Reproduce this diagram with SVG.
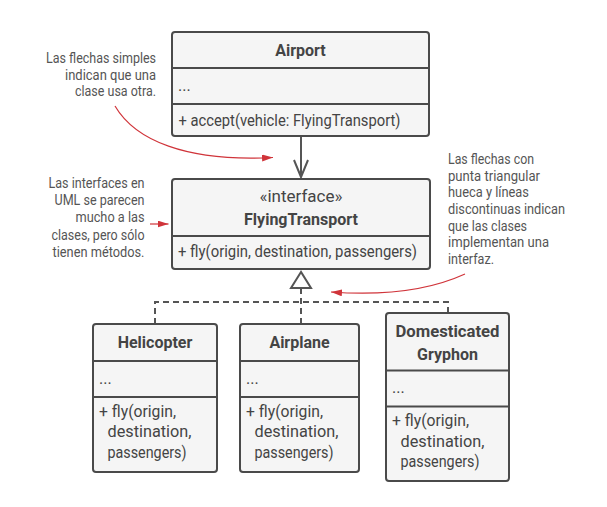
<svg xmlns="http://www.w3.org/2000/svg" width="607" height="507" viewBox="0 0 607 507">
<defs>
<style>
.box{fill:#f5f5f5;stroke:#4a4a4a;stroke-width:2}
.dv{stroke:#4a4a4a;stroke-width:2;fill:none}
.t{font-family:Roboto,"Liberation Sans",sans-serif;font-size:16px;fill:#444}
.b{font-weight:bold;font-size:16px}
.c{text-anchor:middle}
.n{font-family:Roboto,"Liberation Sans",sans-serif;font-size:14.5px;fill:#555;font-weight:400}
.r{text-anchor:end}
.red{stroke:#d0343a;fill:none;stroke-width:1.2}
.con{stroke:#555;stroke-width:2;fill:none}
.dash{stroke:#555;stroke-width:2;fill:none;stroke-dasharray:6 4}
</style>
<marker id="ra" markerUnits="userSpaceOnUse" markerWidth="12" markerHeight="8" refX="11" refY="3.5" orient="auto">
<path d="M0,0 L11,3.5 L0,7 z" fill="#d0343a"/>
</marker>
</defs>
<rect width="607" height="507" fill="#fff"/>

<g id="connectors">
<path class="con" d="M301,136 V176"/>
<path class="con" d="M294,160 L301,177 L308,160"/>
<path class="dash" d="M155,324 V302 H448 V313"/>
<path class="dash" d="M301,288 V324"/>
<path d="M301,272 L291,288 L311,288 z" fill="#fff" stroke="#555" stroke-width="2" stroke-linejoin="miter"/>
</g>

<g id="airport">
<rect class="box" x="172" y="32" width="257" height="104" rx="3"/>
<path class="dv" d="M172,68 H429 M172,104 H429"/>
<text class="t b c" x="300.5" y="56">Airport</text>
<text class="t" x="178" y="91">...</text>
<text class="t" x="178.5" y="126" textLength="222" lengthAdjust="spacingAndGlyphs">+ accept(vehicle: FlyingTransport)</text>
</g>

<g id="flyingtransport">
<rect class="box" x="172" y="179" width="258" height="90" rx="3"/>
<path class="dv" d="M172,236 H430"/>
<text class="t c" x="301" y="201.5" textLength="83" lengthAdjust="spacingAndGlyphs">«interface»</text>
<text class="t b c" x="301" y="225">FlyingTransport</text>
<text class="t" x="178" y="257" textLength="239" lengthAdjust="spacingAndGlyphs">+ fly(origin, destination, passengers)</text>
</g>

<g id="helicopter">
<rect class="box" x="93" y="324" width="124" height="148" rx="3"/>
<path class="dv" d="M93,361 H217 M93,397 H217"/>
<text class="t b c" x="155" y="347.5">Helicopter</text>
<text class="t" x="99" y="384">...</text>
<text class="t" x="99" y="416.5" textLength="77" lengthAdjust="spacingAndGlyphs">+ fly(origin,</text>
<text class="t" x="107.5" y="437" textLength="84" lengthAdjust="spacingAndGlyphs">destination,</text>
<text class="t" x="107.5" y="458" textLength="79" lengthAdjust="spacingAndGlyphs">passengers)</text>
</g>

<g id="airplane">
<rect class="box" x="240" y="324" width="119" height="148" rx="3"/>
<path class="dv" d="M240,361 H359 M240,397 H359"/>
<text class="t b c" x="299.5" y="347.5">Airplane</text>
<text class="t" x="246" y="384">...</text>
<text class="t" x="246" y="416.5" textLength="77" lengthAdjust="spacingAndGlyphs">+ fly(origin,</text>
<text class="t" x="254.5" y="437" textLength="84" lengthAdjust="spacingAndGlyphs">destination,</text>
<text class="t" x="254.5" y="458" textLength="79" lengthAdjust="spacingAndGlyphs">passengers)</text>
</g>

<g id="gryphon">
<rect class="box" x="386" y="313" width="123" height="168" rx="3"/>
<path class="dv" d="M386,370.5 H509 M386,406.5 H509"/>
<text class="t b c" x="447.5" y="337" textLength="104" lengthAdjust="spacingAndGlyphs">Domesticated</text>
<text class="t b c" x="447.5" y="359.5">Gryphon</text>
<text class="t" x="392" y="393">...</text>
<text class="t" x="392" y="425.5" textLength="77" lengthAdjust="spacingAndGlyphs">+ fly(origin,</text>
<text class="t" x="400.5" y="446.5" textLength="84" lengthAdjust="spacingAndGlyphs">destination,</text>
<text class="t" x="400.5" y="467" textLength="79" lengthAdjust="spacingAndGlyphs">passengers)</text>
</g>

<g id="notes">
<text class="n r" x="156" y="62.5" textLength="110" lengthAdjust="spacingAndGlyphs">Las flechas simples</text>
<text class="n r" x="156" y="79.5" textLength="91" lengthAdjust="spacingAndGlyphs">indican que una</text>
<text class="n r" x="156" y="96" textLength="81" lengthAdjust="spacingAndGlyphs">clase usa otra.</text>
<text class="n r" x="144.5" y="187.5" textLength="96" lengthAdjust="spacingAndGlyphs">Las interfaces en</text>
<text class="n r" x="144.5" y="205" textLength="90" lengthAdjust="spacingAndGlyphs">UML se parecen</text>
<text class="n r" x="144.5" y="222" textLength="69" lengthAdjust="spacingAndGlyphs">mucho a las</text>
<text class="n r" x="144.5" y="239.5" textLength="93" lengthAdjust="spacingAndGlyphs">clases, pero sólo</text>
<text class="n r" x="144.5" y="256.5" textLength="92" lengthAdjust="spacingAndGlyphs">tienen métodos.</text>
<text class="n" x="448" y="164" textLength="86" lengthAdjust="spacingAndGlyphs">Las flechas con</text>
<text class="n" x="448" y="180.7" textLength="92" lengthAdjust="spacingAndGlyphs">punta triangular</text>
<text class="n" x="448" y="197.3" textLength="81" lengthAdjust="spacingAndGlyphs">hueca y líneas</text>
<text class="n" x="448" y="214" textLength="117" lengthAdjust="spacingAndGlyphs">discontinuas indican</text>
<text class="n" x="448" y="230.7" textLength="79" lengthAdjust="spacingAndGlyphs">que las clases</text>
<text class="n" x="448" y="247.3" textLength="101" lengthAdjust="spacingAndGlyphs">implementan una</text>
<text class="n" x="448" y="264" textLength="46" lengthAdjust="spacingAndGlyphs">interfaz.</text>
<path class="red" marker-end="url(#ra)" d="M115,106 C135,140 185,162 273,157.5"/>
<path class="red" marker-end="url(#ra)" d="M150,224 L168.5,224"/>
<path class="red" marker-end="url(#ra)" d="M465,274 C430,290 385,296 331,292"/>
</g>
</svg>
